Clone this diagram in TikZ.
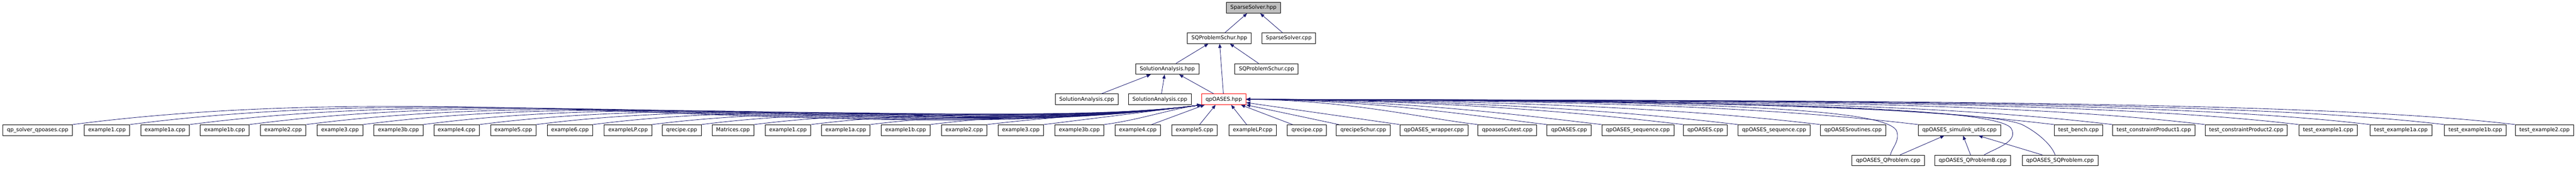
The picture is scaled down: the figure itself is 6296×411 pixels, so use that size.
\documentclass[tikz,border=0pt]{standalone}
\usepackage{fontspec}
\setmainfont{DejaVu Sans}
\usetikzlibrary{arrows.meta, positioning}
\definecolor{edgeblue}{HTML}{191970}
\definecolor{filegray}{HTML}{BFBFBF}

\begin{document}
\begin{tikzpicture}[
        x=0.75pt, y=-0.75pt,
        node distance=18pt,
        file/.style={
            rectangle,
            minimum height=19.5pt,
            inner xsep=7.5pt,
            inner ysep=0pt,
            text centered,
            draw=black,
            line width=0.9pt,
            fill=white,
            font=\fontsize{9.7}{11}\selectfont
        },
        current/.style={
            file,
            fill=filegray
        },
        truncated/.style={
            file,
            draw=red
        },
        arrow/.style={
            <-,
            >={Triangle[length=7.5pt, width=6pt]},
            line width=0.8pt,
            draw=edgeblue
        }
    ]
        \useasboundingbox (0,0) rectangle (6296,411);

        \node (sparsehpp) [current] at (3063.5,19) {SparseSolver.hpp};
        \node (schurhpp) [file] at (2980,93) {SQProblemSchur.hpp};
        \node (sparsecpp) [file, right=18.75pt of schurhpp] {SparseSolver.cpp};
        \node (analysishpp) [file] at (2853,168) {SolutionAnalysis.hpp};
        \node (schurcpp) [file] at (3095.5,168) {SQProblemSchur.cpp};
        \node (qpoases) [truncated] at (2991,242) {qpOASES.hpp};
        \node (analysiscppb) [file, left=of qpoases] {SolutionAnalysis.cpp};
        \node (analysiscppa) [file, left=of analysiscppb] {SolutionAnalysis.cpp};

        \node (qpsolver) [file] at (92,317) {qp\_solver\_qpoases.cpp};
        \node (ex1) [file] at (261.5,317) {example1.cpp};
        \node (ex1a) [file] at (403.5,317) {example1a.cpp};
        \node (ex1b) [file] at (549,317) {example1b.cpp};
        \node (ex2) [file] at (692,317) {example2.cpp};
        \node (ex3) [file] at (831,317) {example3.cpp};
        \node (ex3b) [file] at (974,317) {example3b.cpp};
        \node (ex4) [file] at (1116,317) {example4.cpp};
        \node (ex5) [file] at (1254.5,317) {example5.cpp};
        \node (ex6) [file] at (1393,317) {example6.cpp};
        \node (exlp) [file] at (1535,317) {exampleLP.cpp};
        \node (qrecipe) [file] at (1666,317) {qrecipe.cpp};
        \node (matrices) [file] at (1791.5,317) {Matrices.cpp};
        \node (dex1) [file] at (1926,317) {example1.cpp};
        \node (dex1a) [file] at (2067,317) {example1a.cpp};
        \node (dex1b) [file] at (2213.5,317) {example1b.cpp};
        \node (dex2) [file] at (2356.5,317) {example2.cpp};
        \node (dex3) [file] at (2495,317) {example3.cpp};
        \node (dex3b) [file] at (2638,317) {example3b.cpp};
        \node (dex4) [file] at (2781,317) {example4.cpp};
        \node (dex5) [file] at (2919.5,317) {example5.cpp};
        \node (dexlp) [file] at (3061.5,317) {exampleLP.cpp};
        \node (dqrecipe) [file] at (3194.5,317) {qrecipe.cpp};
        \node (qrecipeschur) [file] at (3332,317) {qrecipeSchur.cpp};
        \node (wrapper) [file] at (3504.5,317) {qpOASES\_wrapper.cpp};
        \node (cutest) [file] at (3684,317) {qpoasesCutest.cpp};
        \node (qpcpp) [file] at (3835,317) {qpOASES.cpp};
        \node (sequence) [file] at (4003,317) {qpOASES\_sequence.cpp};
        \node (qpcppb) [file] at (4168,317) {qpOASES.cpp};
        \node (sequenceb) [file] at (4336,317) {qpOASES\_sequence.cpp};
        \node (routines) [file] at (4529,317) {qpOASESroutines.cpp};
        \node (simulink) [file] at (4789,317) {qpOASES\_simulink\_utils.cpp};
        \node (bench) [file] at (5080,317) {test\_bench.cpp};
        \node (productone) [file] at (5264,317) {test\_constraintProduct1.cpp};
        \node (producttwo) [file] at (5490,317) {test\_constraintProduct2.cpp};
        \node (testone) [file] at (5690,317) {test\_example1.cpp};
        \node (testonea) [file] at (5868,317) {test\_example1a.cpp};
        \node (testoneb) [file] at (6050,317) {test\_example1b.cpp};
        \node (testtwo) [file] at (6219,317) {test\_example2.cpp};

        \node (qproblemb) [file] at (4821.5,391) {qpOASES\_QProblemB.cpp};
        \node (qproblem) [file, left=of qproblemb] {qpOASES\_QProblem.cpp};
        \node (sqproblem) [file, right=20pt of qproblemb] {qpOASES\_SQProblem.cpp};

        \draw [arrow] ([xshift=-11.6pt]sparsehpp.south) -- ([xshift=10.5pt]schurhpp.north);
        \draw [arrow] ([xshift=12.4pt]sparsehpp.south) -- ([xshift=-11.6pt]sparsecpp.north);
        \draw [arrow] ([xshift=-20pt]schurhpp.south) -- ([xshift=16pt]analysishpp.north);
        \draw [arrow] (schurhpp) -- (qpoases);
        \draw [arrow] ([xshift=19.5pt]schurhpp.south) -- ([xshift=-14.6pt]schurcpp.north);
        \draw [arrow] ([xshift=-30.4pt]analysishpp.south) -- ([xshift=27pt]analysiscppa.north);
        \draw [arrow] ([xshift=-5pt]analysishpp.south) -- ([xshift=3pt]analysiscppb.north);
        \draw [arrow] ([xshift=21.75pt]analysishpp.south) -- ([xshift=-18.4pt]qpoases.north);

        % left bundle
        \draw [arrow] (qpoases.south west) .. controls (2109,365) and (1143,180) .. (qpsolver.north east);
        \draw [arrow] (qpoases.south west) .. controls (2151,360) and (1235,186) .. (ex1.north east);
        \draw [arrow] (qpoases.south west) .. controls (2194,354) and (1329,193) .. (ex1a.north east);
        \draw [arrow] (qpoases.south west) .. controls (2238,348) and (1424,199) .. (ex1b.north east);
        \draw [arrow] (qpoases.south west) .. controls (2280,342) and (1515,206) .. (ex2.north east);
        \draw [arrow] (qpoases.south west) .. controls (2322,337) and (1605,212) .. (ex3.north east);
        \draw [arrow] (qpoases.south west) .. controls (2366,331) and (1700,218) .. (ex3b.north east);
        \draw [arrow] (qpoases.south west) .. controls (2407,326) and (1790,225) .. (ex4.north east);
        \draw [arrow] (qpoases.south west) .. controls (2449,320) and (1880,231) .. (ex5.north east);
        \draw [arrow] (qpoases.south west) .. controls (2490,314) and (1970,237) .. (ex6.north east);
        \draw [arrow] (qpoases.south west) .. controls (2534,309) and (2064,244) .. (exlp.north east);
        \draw [arrow] (qpoases.south west) .. controls (2569,304) and (2142,249) .. (qrecipe.north east);
        \draw [arrow] (qpoases.south west) .. controls (2608,299) and (2226,255) .. (matrices.north east);
        \draw [arrow] (qpoases.south west) .. controls (2650,293) and (2317,261) .. (dex1.north east);
        \draw [arrow] (qpoases.south west) .. controls (2693,287) and (2410,268) .. (dex1a.north east);
        \draw [arrow] (qpoases.south west) .. controls (2737,281) and (2506,274) .. (dex1b.north east);
        \draw [arrow] (qpoases.south west) .. controls (2779,276) and (2597,281) .. (dex2.north east);
        \draw [arrow] (qpoases.south west) .. controls (2821,270) and (2686,287) .. (dex3.north east);
        \draw [arrow] (qpoases.south west) .. controls (2865,265) and (2781,293) .. (dex3b.north east);

        % straight below
        \draw [arrow] ([xshift=6pt]qpoases.south west) -- ([xshift=-17pt]dex4.north east);
        \draw [arrow] ([xshift=-15pt]qpoases.south) -- ([xshift=9.4pt]dex5.north);
        \draw [arrow] ([xshift=13.5pt]qpoases.south) -- ([xshift=-11pt]dexlp.north);
        \draw [arrow] ([xshift=31.5pt]qpoases.south) -- ([xshift=-26.6pt]dqrecipe.north);
        \draw [arrow] (qpoases.south east) -- ([xshift=5pt]qrecipeschur.north west);
        \draw [arrow] ([yshift=-6pt]qpoases.east) -- (wrapper.north west);

        % right bundle
        \draw [arrow] (qpoases.east) .. controls (3301,245) and (3471,287) .. (cutest.north west);
        \draw [arrow] (qpoases.east) .. controls (3377,245) and (3598,282) .. (qpcpp.north west);
        \draw [arrow] (qpoases.east) .. controls (3437,245) and (3697,278) .. (sequence.north west);
        \draw [arrow] (qpoases.east) .. controls (3527,245) and (3847,272) .. (qpcppb.north west);
        \draw [arrow] (qpoases.east) .. controls (3586,245) and (3947,268) .. (sequenceb.north west);
        \draw [arrow] (qpoases.east) .. controls (3677,245) and (4099,262) .. (routines.north west);
        \draw [arrow] (qpoases.east) .. controls (3783,245) and (4275,255) .. (simulink.north west);
        \draw [arrow] (qpoases.east) .. controls (3933,245) and (4525,245) .. (bench.north west);
        \draw [arrow] (qpoases.east) .. controls (3998,245) and (4662,244) .. (productone.north west);
        \draw [arrow] (qpoases.east) .. controls (4100,245) and (4889,244) .. (producttwo.north west);
        \draw [arrow] (qpoases.east) .. controls (4201,245) and (5114,244) .. (testone.north west);
        \draw [arrow] (qpoases.east) .. controls (4281,245) and (5291,244) .. (testonea.north west);
        \draw [arrow] (qpoases.east) .. controls (4362,245) and (5472,244) .. (testoneb.north west);
        \draw [arrow] (qpoases.east) .. controls (4442,245) and (5649,244) .. (testtwo.north west);

        % lowest row
        \draw [arrow] (qpoases.east) .. controls (4200,245) and (4605,265) .. (4635,318) .. controls (4645,342) and (4624,360) .. ([xshift=4pt]qproblem.north);
        \draw [arrow] (qpoases.east) .. controls (4300,245) and (4875,262) .. (4915,312) .. controls (4935,345) and (4880,360) .. ([xshift=21pt]qproblemb.north);
        \draw [arrow] (qpoases.east) .. controls (4300,245) and (4880,270) .. (4945,305) .. controls (4985,326) and (5015,355) .. ([xshift=-9pt]sqproblem.north);
        \draw [arrow] ([xshift=-27.75pt]simulink.south) -- ([xshift=21.75pt]qproblem.north);
        \draw [arrow] ([xshift=6.75pt]simulink.south) -- ([xshift=-4pt]qproblemb.north);
        \draw [arrow] ([xshift=35pt]simulink.south) -- ([xshift=-32.6pt]sqproblem.north);

    \end{tikzpicture}
\end{document}
